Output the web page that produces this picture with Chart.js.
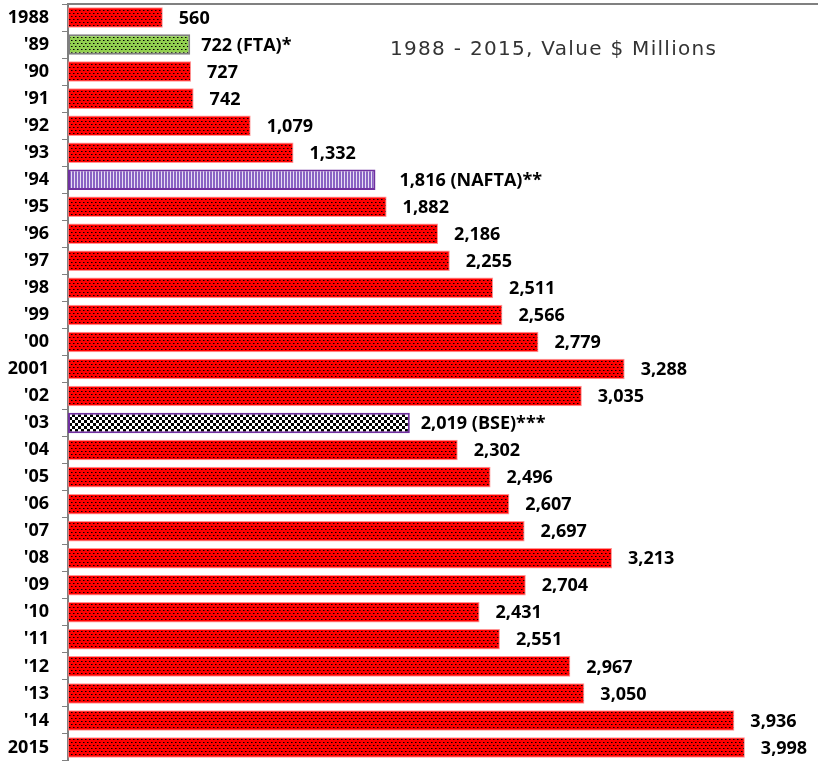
<!DOCTYPE html>
<html><head><meta charset="utf-8">
<script src="https://cdn.jsdelivr.net/npm/chart.js@4"></script>
<style>html,body{margin:0;padding:0;background:#fff}</style>
</head><body>
<canvas id="c" width="818" height="761"></canvas>
<script>
const categories = ["1988","'89","'90","'91","'92","'93","'94","'95","'96","'97","'98","'99","'00","2001","'02","'03","'04","'05","'06","'07","'08","'09","'10","'11","'12","'13","'14","2015"];
const values = [560,722,727,742,1079,1332,1816,1882,2186,2255,2511,2566,2779,3288,3035,2019,2302,2496,2607,2697,3213,2704,2431,2551,2967,3050,3936,3998];
const notes = {"'89":" (FTA)*","'94":" (NAFTA)**","'03":" (BSE)***"};
const titleText = "1988 - 2015, Value $ Millions";

function tile(w,h,draw){const c=document.createElement('canvas');c.width=w;c.height=h;const g=c.getContext('2d');draw(g);return document.getElementById('c').getContext('2d').createPattern(c,'repeat');}
const redDots = tile(4,6,g=>{g.fillStyle='#FF0000';g.fillRect(0,0,4,6);g.fillStyle='#000';g.fillRect(1,1,1,1);g.fillRect(3,4,1,1);g.fillStyle='#800000';g.fillRect(2,1,1,1);g.fillRect(0,4,1,1);});
const greenDots = tile(4,6,g=>{g.fillStyle='#92D050';g.fillRect(0,0,4,6);g.fillStyle='#000';g.fillRect(1,1,1,1);g.fillRect(3,4,1,1);g.fillStyle='#4a6828';g.fillRect(2,1,1,1);g.fillRect(0,4,1,1);});
const purpleStripes = tile(3,1,g=>{g.fillStyle='#8A63C4';g.fillRect(0,0,2,1);g.fillStyle='#E8E0F4';g.fillRect(2,0,1,1);});
const checker = tile(6,6,g=>{g.fillStyle='#fff';g.fillRect(0,0,6,6);g.fillStyle='#000';g.fillRect(0,0,3,3);g.fillRect(3,3,3,3);});

const bg = categories.map(c=> c==="'89"?greenDots : c==="'94"?purpleStripes : c==="'03"?checker : redDots);
const bc = categories.map(c=> c==="'89"?'#7F7F7F' : (c==="'94"||c==="'03")?'#7030A0' : 'rgba(255,120,120,0.8)');
const bw = categories.map(c=> (c==="'89"||c==="'94"||c==="'03")?2:1);

const labelPlugin = {
  id:'lbl',
  afterDatasetsDraw(chart){
    const ctx=chart.ctx; const meta=chart.getDatasetMeta(0);
    ctx.save();
    ctx.font='bold 18px "Open Sans"'; ctx.fillStyle='#000'; ctx.textBaseline='middle'; ctx.textAlign='left';
    meta.data.forEach((el,i)=>{
      const c=categories[i];
      let off=16; if(c==="'89"||c==="'03") off=11; if(c==="'94") off=24;
      const txt=values[i].toLocaleString('en-US')+(notes[c]||'');
      ctx.fillText(txt, el.x+off, el.y+1);
    });
    ctx.font='20px "DejaVu Sans"'; ctx.fillStyle='#333333';
    if ('letterSpacing' in ctx) ctx.letterSpacing='1.3px';
    ctx.fillText(titleText, 390, 50);
    ctx.restore();
  }
};

new Chart(document.getElementById('c'),{
  type:'bar',
  data:{labels:categories,datasets:[{data:values,backgroundColor:bg,borderColor:bc,borderWidth:bw,borderSkipped:false,barPercentage:0.76,categoryPercentage:1}]},
  options:{
    indexAxis:'y',responsive:false,animation:false,
    layout:{padding:{top:4,left:0,right:0,bottom:-2}},
    plugins:{legend:{display:false},tooltip:{enabled:false},title:{display:false}},
    scales:{
      x:{position:'top',min:0,max:4430,ticks:{display:false},grid:{display:false},border:{display:true,color:'#808080',width:2},afterFit(s){s.height=0;s.paddingLeft=0;s.paddingRight=0;}},
      y:{ticks:{color:'#000',font:{family:'Open Sans',weight:'bold',size:18},padding:13},grid:{display:true,drawOnChartArea:false,drawTicks:true,tickLength:6,color:'#808080',lineWidth:1,offset:true},border:{display:true,color:'#808080',width:2},afterFit(s){s.width=68;s.paddingTop=0;s.paddingBottom=0;}}
    }
  },
  plugins:[labelPlugin]
});
</script>
</body></html>
